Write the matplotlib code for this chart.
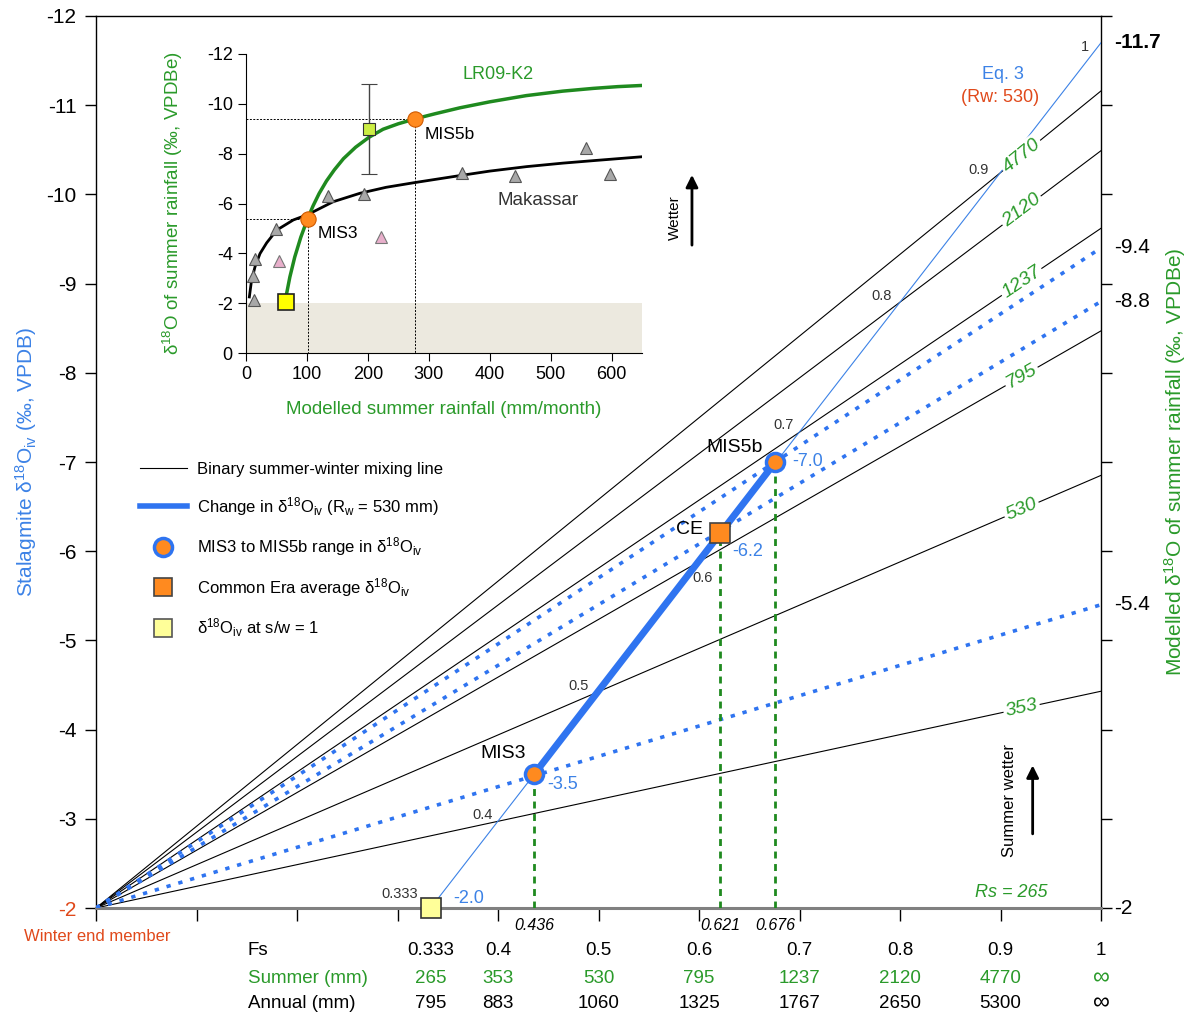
import numpy as np
import matplotlib
matplotlib.use("Agg")
import matplotlib.pyplot as plt
from matplotlib.lines import Line2D

plt.rcParams['font.family'] = ['Liberation Sans', 'DejaVu Sans']
plt.rcParams['mathtext.default'] = 'regular'

# ---------------- data ----------------
# Binary mixing lines: summer rainfall (mm) and delta18O at Fs = 1
mix_rs = ['4770', '2120', '1237', '795', '530', '353', '265']
mix_end = [-11.16, -10.49, -9.62, -8.47, -6.85, -4.43, -2.0]
winter_fs, winter_d18o = 0.0, -2.0

# Eq. 3 line (Rw = 530)
eq3_fs = [0.333, 1.0]
eq3_d18o = [-2.0, -11.7]
eq3_lab_fs = [0.333, 0.4, 0.5, 0.6, 0.7, 0.8, 0.9, 1.0]
eq3_lab_txt = ['0.333', '0.4', '0.5', '0.6', '0.7', '0.8', '0.9', '1']
eq3_lab_d18o = [-2.0, -2.97, -4.43, -5.88, -7.33, -8.79, -10.25, -11.7]

# Stalagmite values
rec_names = ['MIS3', 'CE', 'MIS5b']
rec_fs = [0.436, 0.621, 0.676]
rec_d18o = [-3.5, -6.2, -7.0]
rec_summer_end = [-5.4, -8.8, -9.4]
sw1_fs, sw1_d18o = 0.333, -2.0

# Bottom table
fs_ticks = [0.333, 0.4, 0.5, 0.6, 0.7, 0.8, 0.9, 1.0]
fs_txt = ['0.333', '0.4', '0.5', '0.6', '0.7', '0.8', '0.9', '1']
summer_mm = ['265', '353', '530', '795', '1237', '2120', '4770', '∞']
annual_mm = ['795', '883', '1060', '1325', '1767', '2650', '5300', '∞']

# Right axis labels
right_vals = [-11.7, -9.4, -8.8, -5.4, -2.0]
right_txt = ['-11.7', '-9.4', '-8.8', '-5.4', '-2']

# Inset data
lr09_x = [66.7, 72, 80, 90, 101, 110, 120, 132, 145, 160, 180, 202, 225, 250, 278,
          310, 351, 400, 460, 520, 570, 610, 652]
lr09_y = [-2.39, -3.05, -3.85, -4.65, -5.38, -5.9, -6.4, -6.9, -7.35, -7.8, -8.26,
          -8.66, -8.98, -9.2, -9.40, -9.60, -9.84, -10.08, -10.33, -10.51, -10.62,
          -10.69, -10.74]
mak_x = [5.5, 9, 14.8, 23, 33.9, 50.3, 77.7, 101, 143, 187, 230, 277, 351, 400, 460.6,
         520, 570, 652]
mak_y = [-2.25, -2.9, -3.46, -3.99, -4.42, -4.93, -5.34, -5.55, -6.07, -6.41, -6.65,
         -6.84, -7.12, -7.3, -7.48, -7.62, -7.72, -7.88]
tri_x = [13.7, 11.5, 14.2, 49.2, 134, 193.7, 354, 441.5, 558, 597.4]
tri_y = [-2.12, -3.08, -3.77, -4.97, -6.31, -6.37, -7.21, -7.12, -8.22, -7.18]
pink_x = [54.7, 221]
pink_y = [-3.70, -4.66]
obs_x, obs_y, obs_err = 201.9, -8.99, 1.8
ins_sw1_x, ins_sw1_y = 65.6, -2.05
ins_mis_x = [101, 278]
ins_mis_y = [-5.38, -9.4]

# ---------------- colours ----------------
BLUE = '#2F74F0'
BLUE_T = '#3C82E6'
GREEN = '#2A9A2A'
GREEN_C = '#1F8A1F'
ORANGE = '#FF8A1F'
RED = '#E0491B'

W, H = 1192, 1015
fig = plt.figure(figsize=(W / 100, H / 100), dpi=100)

L, R, B, T = 96, 1101, 908, 16
ax = fig.add_axes([L / W, 1 - B / H, (R - L) / W, (B - T) / H])
ax.set_xlim(0, 1)
ax.set_ylim(-2, -12)

# mixing lines
for rs, end in zip(mix_rs, mix_end):
    ax.plot([winter_fs, 1.0], [winter_d18o, end], color='black', lw=0.8, zorder=2)
    if rs != '265':
        f = 0.921
        yv = winter_d18o + (end - winter_d18o) * f
        ang = np.degrees(np.arctan2(end - winter_d18o, 1.0))
        ax.text(f, yv, rs, color=GREEN, fontsize=14, style='italic',
                ha='center', va='center', rotation=ang, transform_rotates_text=True,
                rotation_mode='anchor', zorder=5,
                bbox=dict(facecolor='white', edgecolor='none', pad=1.5))

# dotted lines through records
for e in rec_summer_end:
    ax.plot([winter_fs, 1.0], [winter_d18o, e], color=BLUE, lw=2.6,
            linestyle=(0, (1.2, 2.2)), zorder=3)

# Eq. 3 line
ax.plot(eq3_fs, eq3_d18o, color=BLUE_T, lw=0.8, zorder=3)
# thick change line
ax.plot([rec_fs[0], rec_fs[2]], [rec_d18o[0], rec_d18o[2]], color=BLUE, lw=5,
        solid_capstyle='butt', zorder=4)

# green vertical dashed lines
for f, d in zip(rec_fs, rec_d18o):
    ax.plot([f, f], [-2, d], color=GREEN_C, lw=2, linestyle=(0, (2.5, 2)), zorder=3)

# markers
ax.plot([rec_fs[0], rec_fs[2]], [rec_d18o[0], rec_d18o[2]], 'o', ms=13,
        mfc=ORANGE, mec=BLUE, mew=2.5, zorder=7, linestyle='none')
ax.plot([rec_fs[1]], [rec_d18o[1]], 's', ms=14, mfc=ORANGE, mec='#444444',
        mew=1.2, zorder=7)
ax.plot([sw1_fs], [sw1_d18o], 's', ms=14, mfc='#FFFF99', mec='#333333',
        mew=1.2, zorder=8, clip_on=False)

# Eq.3 Fs labels
offs = [(-31, 14), (-15, 6), (-20, 5), (4, -16), (-16, 8), (-18, 6), (-22, 2), (-16, -4)]
for f, d, t, o in zip(eq3_lab_fs, eq3_lab_d18o, eq3_lab_txt, offs):
    ax.annotate(t, (f, d), xytext=o, textcoords='offset pixels', fontsize=10.5,
                color='#333333', ha='center', va='center', zorder=6)

# record labels
ax.text(0.405, -3.73, 'MIS3', fontsize=14, ha='center', va='center', zorder=8)
ax.text(0.591, -6.24, 'CE', fontsize=14, ha='center', va='center', zorder=8)
ax.text(0.635, -7.16, 'MIS5b', fontsize=14, ha='center', va='center', zorder=8)
ax.text(0.464, -3.39, '-3.5', fontsize=13, color=BLUE_T, ha='center', va='center')
ax.text(0.648, -6.0, '-6.2', fontsize=13, color=BLUE_T, ha='center', va='center')
ax.text(0.708, -7.01, '-7.0', fontsize=13, color=BLUE_T, ha='center', va='center')
ax.text(0.371, -2.11, '-2.0', fontsize=13, color=BLUE_T, ha='center', va='center')
ax.text(0.9025, -11.34, 'Eq. 3', fontsize=13, color=BLUE_T, ha='center', va='center')
ax.text(0.8995, -11.09, '(Rw: 530)', fontsize=13, color=RED, ha='center', va='center')
ax.text(0.911, -2.17, 'Rs = 265', fontsize=13, color=GREEN, style='italic',
        ha='center', va='center')

# arrows
ax.text(0.909, -3.21, 'Summer wetter', fontsize=12, rotation=90, ha='center', va='center')
ax.annotate('', xy=(0.932, -3.63), xytext=(0.932, -2.80),
            arrowprops=dict(arrowstyle='-|>', color='black', lw=2, mutation_scale=18))
ax.text(0.576, -9.74, 'Wetter', fontsize=11, rotation=90, ha='center', va='center')
ax.annotate('', xy=(0.593, -10.25), xytext=(0.593, -9.40),
            arrowprops=dict(arrowstyle='-|>', color='black', lw=2, mutation_scale=18))

# axes styling
ax.set_xticks(np.arange(0, 1.01, 0.1))
ax.set_xticklabels([])
ax.set_yticks(np.arange(-12, -1, 1))
ax.set_yticklabels([str(v) for v in range(-12, -1)], fontsize=15)
ax.get_yticklabels()[-1].set_color(RED)
ax.tick_params(axis='both', direction='out', length=8, width=1, right=True, pad=6)
ax.tick_params(axis='x', length=9)
for s in ['left', 'right', 'top']:
    ax.spines[s].set_linewidth(1)
ax.spines['bottom'].set_color('#808080')
ax.spines['bottom'].set_linewidth(2.2)

ax.set_ylabel('Stalagmite δ$^{18}$O$_{iv}$ (‰, VPDB)', color=BLUE_T, fontsize=15)
ax.yaxis.set_label_coords(-0.057, 0.5)
ax.text(1.0736, 0.5, 'Modelled δ$^{18}$O of summer rainfall (‰, VPDBe)', color=GREEN,
        fontsize=15, rotation=90, ha='center', va='center', transform=ax.transAxes)

# right axis labels
rt = ax.get_yaxis_transform()
for v, t in zip(right_vals, right_txt):
    ax.text(1.013, v, t, transform=rt, fontsize=15, ha='left', va='center',
            fontweight='bold' if t == '-11.7' else 'normal')

# below-axis labels
xt = ax.get_xaxis_transform()
for f in rec_fs:
    ax.text(f, -0.020, f'{f:.3f}', transform=xt, fontsize=11.5, style='italic',
            ha='center', va='center')
ax.text(0.001, -0.0325, 'Winter end member', transform=xt, fontsize=12, color=RED,
        ha='center', va='center')
rows = [(-0.0482, 'Fs', fs_txt, 'black'), (-0.0785, 'Summer (mm)', summer_mm, GREEN),
        (-0.1075, 'Annual (mm)', annual_mm, 'black')]
for yy, lab, vals, col in rows:
    ax.text(0.151, yy, lab, transform=xt, fontsize=13.5, color=col, ha='left', va='center')
    for f, v in zip(fs_ticks, vals):
        ax.text(f, yy, v, transform=xt, fontsize=17 if v == '∞' else 13.5, color=col,
                ha='center', va='center')

# legend
handles = [
    Line2D([], [], color='black', lw=0.8),
    Line2D([], [], color=BLUE, lw=4),
    Line2D([], [], marker='o', ms=13, mfc=ORANGE, mec=BLUE, mew=2.5, ls='none'),
    Line2D([], [], marker='s', ms=13, mfc=ORANGE, mec='#444444', mew=1.2, ls='none'),
    Line2D([], [], marker='s', ms=13, mfc='#FFFF99', mec='#555555', mew=1.2, ls='none'),
]
labels = ['Binary summer-winter mixing line',
          'Change in δ$^{18}$O$_{iv}$ (R$_w$ = 530 mm)',
          'MIS3 to MIS5b range in δ$^{18}$O$_{iv}$',
          'Common Era average δ$^{18}$O$_{iv}$',
          'δ$^{18}$O$_{iv}$ at s/w = 1']
fig.legend(handles, labels, loc='upper left', bbox_to_anchor=(125 / W, 1 - 447 / H),
           frameon=False, fontsize=12, handlelength=2.8, handletextpad=0.6,
           labelspacing=1.06)

# ---------------- inset ----------------
IL, IR, IB, IT = 246, 642, 353, 54
ia = fig.add_axes([IL / W, 1 - IB / H, (IR - IL) / W, (IB - IT) / H])
ia.set_facecolor('none')
ia.set_xlim(0, 650)
ia.set_ylim(0, -12)
ia.axhspan(0, -2, color='#ECE9DF', zorder=0, lw=0)
ia.plot([0, ins_mis_x[1]], [ins_mis_y[1]] * 2, color='black', lw=0.7, ls=(0, (2, 1.5)))
ia.plot([ins_mis_x[1]] * 2, [ins_mis_y[1], 0], color='black', lw=0.7, ls=(0, (2, 1.5)))
ia.plot([0, ins_mis_x[0]], [ins_mis_y[0]] * 2, color='black', lw=0.7, ls=(0, (2, 1.5)))
ia.plot([ins_mis_x[0]] * 2, [ins_mis_y[0], 0], color='black', lw=0.7, ls=(0, (2, 1.5)))
ia.plot(mak_x, mak_y, color='black', lw=2, zorder=3)
ia.plot(lr09_x, lr09_y, color=GREEN_C, lw=2.5, zorder=3)
ia.plot(tri_x, tri_y, '^', ms=8, mfc='#A8A8A8', mec='#555555', mew=0.8, zorder=4)
ia.plot(pink_x, pink_y, '^', ms=8, mfc='#E8AFCB', mec='#777777', mew=0.8, zorder=4)
ia.errorbar([obs_x], [obs_y], yerr=obs_err, fmt='s', ms=8, mfc='#CCEE44', mec='#333333',
            mew=0.8, ecolor='#444444', elinewidth=1, capsize=6, zorder=5)
ia.plot(ins_mis_x, ins_mis_y, 'o', ms=11, mfc=ORANGE, mec='#D05A00', mew=0.8, zorder=6)
ia.plot([ins_sw1_x], [ins_sw1_y], 's', ms=11, mfc='#FFFF00', mec='#222222', mew=1.2,
        zorder=6)
ia.text(414, -11.17, 'LR09-K2', color=GREEN, fontsize=13, ha='center', va='center')
ia.text(335, -8.75, 'MIS5b', fontsize=12.5, ha='center', va='center')
ia.text(151.5, -4.80, 'MIS3', fontsize=12.5, ha='center', va='center')
ia.text(480, -6.14, 'Makassar', fontsize=13.5, color='#333333', ha='center', va='center')
ia.set_xticks([0, 100, 200, 300, 400, 500, 600])
ia.set_yticks([0, -2, -4, -6, -8, -10, -12])
ia.set_yticklabels(['0', '-2', '-4', '-6', '-8', '-10', '-12'])
ia.tick_params(direction='out', length=6, labelsize=13)
ia.spines['top'].set_visible(False)
ia.spines['right'].set_visible(False)
ia.set_ylabel('δ$^{18}$O of summer rainfall (‰, VPDBe)', color=GREEN, fontsize=13.5)
ia.yaxis.set_label_coords(-0.155, 0.5)
ia.set_xlabel('Modelled summer rainfall (mm/month)', color=GREEN, fontsize=13.5)
ia.xaxis.set_label_coords(0.5, -0.16)

fig.savefig('out.png', dpi=100)
